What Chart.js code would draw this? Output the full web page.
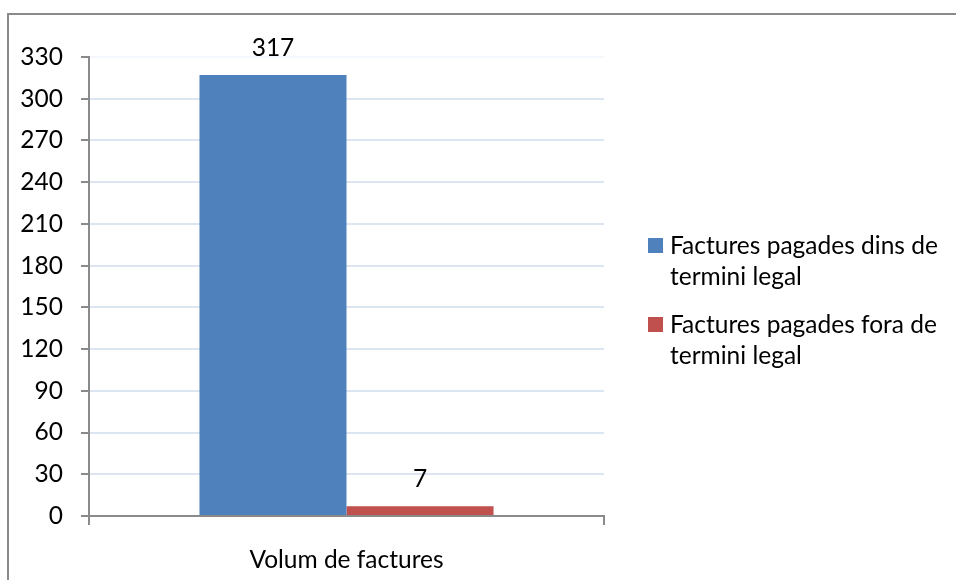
<!DOCTYPE html>
<html>
<head>
<meta charset="utf-8">
<script src="https://cdn.jsdelivr.net/npm/chart.js@4.4.0/dist/chart.umd.min.js"></script>
<style>
  body { margin: 0; background: #fff; overflow: hidden; }
  #wrap { position: relative; width: 956px; height: 580px; overflow: hidden; }
  #frame { position: absolute; left: 7px; top: 13px; right: 0; bottom: 0;
           border-top: 2px solid #8a8a8a; border-left: 2px solid #8a8a8a; }
  #myChart { position: absolute; left: 0; top: 0; }
  #legend { position: absolute; left: 648px; top: 229px; font-family: Lato, sans-serif;
            font-size: 24.5px; color: #000; line-height: 31px; }
  .item { position: relative; padding-left: 22px; margin-bottom: 17px; white-space: nowrap; }
  .box { position: absolute; left: 0; top: 9px; width: 15px; height: 15px; }
</style>
</head>
<body>
<div id="wrap">
  <div id="frame"></div>
  <canvas id="myChart" width="956" height="580"></canvas>
  <div id="legend"></div>
</div>
<script>
var categories = ['Volum de factures'];
var seriesNames = [
    ['Factures pagades dins de', 'termini legal'],
    ['Factures pagades fora de', 'termini legal']
];
var dinsTermini = [317];
var foraTermini = [7];
var yTicks = [0, 30, 60, 90, 120, 150, 180, 210, 240, 270, 300, 330];
var colors = ['#4f81bd', '#c0504d'];

var fontFamily = 'Lato, sans-serif';
var fontSize = 24.5;

// value labels above each bar
var valueLabels = {
    id: 'valueLabels',
    afterDatasetsDraw: function (chart) {
        var ctx = chart.ctx;
        ctx.save();
        ctx.font = fontSize + 'px ' + fontFamily;
        ctx.fillStyle = '#000';
        ctx.textAlign = 'center';
        ctx.textBaseline = 'middle';
        chart.data.datasets.forEach(function (ds, i) {
            chart.getDatasetMeta(i).data.forEach(function (bar, j) {
                ctx.fillText(ds.data[j], bar.x, bar.y - 27);
            });
        });
        ctx.restore();
    }
};

var ctx = document.getElementById('myChart').getContext('2d');
var chart = new Chart(ctx, {
    type: 'bar',
    data: {
        labels: categories,
        datasets: [{
            label: seriesNames[0].join(' '),
            data: dinsTermini,
            backgroundColor: colors[0]
        }, {
            label: seriesNames[1].join(' '),
            data: foraTermini,
            backgroundColor: colors[1]
        }]
    },
    options: {
        responsive: false,
        animation: false,
        layout: { padding: { left: 0, top: 57, right: 352, bottom: 0 } },
        datasets: { bar: { categoryPercentage: 0.571, barPercentage: 1.0 } },
        plugins: {
            legend: { display: false },
            tooltip: { enabled: false }
        },
        scales: {
            x: {
                afterFit: function (scale) { scale.height = 64; },
                grid: {
                    offset: true,
                    drawOnChartArea: false,
                    color: '#8a8a8a',
                    tickLength: 9,
                    lineWidth: 2
                },
                border: { color: '#8a8a8a', width: 2 },
                ticks: {
                    padding: 20,
                    color: '#000',
                    font: { family: fontFamily, size: fontSize }
                }
            },
            y: {
                min: 0,
                max: 330,
                afterFit: function (scale) { scale.width = 89; },
                afterBuildTicks: function (scale) {
                    scale.ticks = yTicks.map(function (v) { return { value: v }; });
                },
                grid: {
                    color: function (c) {
                        return c.tick && c.tick.value === 330 ? 'rgba(220,230,242,0.3)' : '#dce6f2';
                    },
                    lineWidth: 2,
                    tickColor: '#8a8a8a',
                    tickLength: 8
                },
                border: { color: '#8a8a8a', width: 2 },
                ticks: {
                    padding: 18,
                    color: '#000',
                    font: { family: fontFamily, size: fontSize }
                }
            }
        }
    },
    plugins: [valueLabels]
});

// legend with wrapped names
var legend = document.getElementById('legend');
seriesNames.forEach(function (lines, i) {
    var item = document.createElement('div');
    item.className = 'item';
    var box = document.createElement('span');
    box.className = 'box';
    box.style.background = colors[i];
    item.appendChild(box);
    lines.forEach(function (t, k) {
        if (k > 0) item.appendChild(document.createElement('br'));
        item.appendChild(document.createTextNode(t));
    });
    legend.appendChild(item);
});
</script>
</body>
</html>
